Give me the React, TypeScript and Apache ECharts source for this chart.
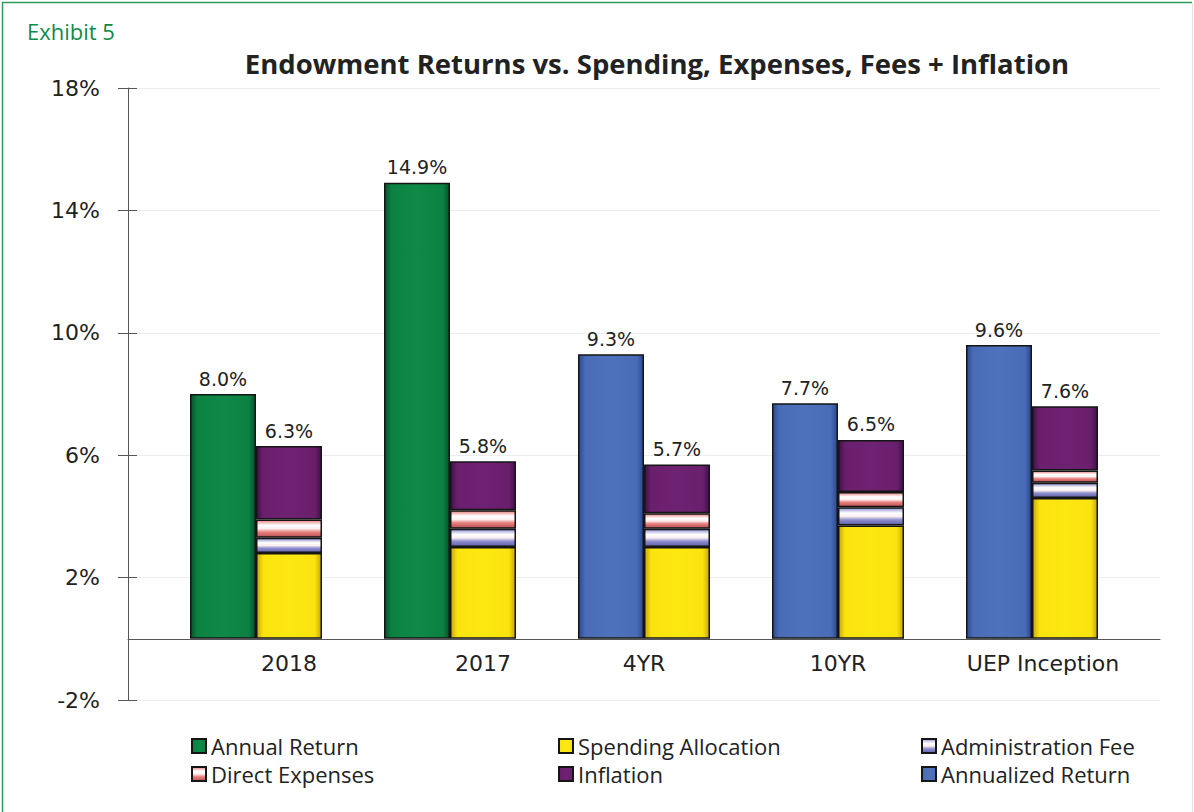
import React, { useEffect, useRef } from "react";
import * as echarts from "echarts";

const categories = ["2018", "2017", "4YR", "10YR", "UEP Inception"];
const annualReturn = [8.0, 14.9, null, null, null];
const annualizedReturn = [null, null, 9.3, 7.7, 9.6];
const spendingAllocation = [2.8, 3.0, 3.0, 3.7, 4.6];
const administrationFee = [0.5, 0.6, 0.6, 0.6, 0.5];
const directExpenses = [0.6, 0.6, 0.5, 0.5, 0.4];
const inflation = [2.4, 1.6, 1.6, 1.7, 2.1];
const yTicks = { min: -2, max: 18, interval: 4 };

const sideBevel = (base: string, dark: string, light: string) =>
  new echarts.graphic.LinearGradient(0, 0, 1, 0, [
    { offset: 0, color: dark },
    { offset: 0.1, color: base },
    { offset: 0.5, color: light },
    { offset: 0.9, color: base },
    { offset: 1, color: dark },
  ]);

const stripeBevel = (base: string, dark: string) =>
  new echarts.graphic.LinearGradient(0, 0, 0, 1, [
    { offset: 0, color: base },
    { offset: 0.3, color: "#ffffff" },
    { offset: 0.5, color: "#fbefef" },
    { offset: 0.7, color: base },
    { offset: 1, color: dark },
  ]);

export default function App() {
  const ref = useRef<HTMLDivElement>(null);
  useEffect(() => {
    if (!ref.current) return;
    const chart = echarts.init(ref.current, null, { renderer: "svg" });
    const totals = categories.map(
      (_, i) => spendingAllocation[i] + administrationFee[i] + directExpenses[i] + inflation[i]
    );
    const gridTop = 88;
    const gridHeight = 612;
    // distance from the grid bottom (-2%) up to the 0% line
    const zeroOffset = (gridHeight * (0 - yTicks.min)) / (yTicks.max - yTicks.min);
    const border = { borderColor: "#151515", borderWidth: 1.5 };
    const topLabel = {
      show: true,
      position: "top" as const,
      distance: 6,
      fontFamily: "DejaVu Sans",
      fontSize: 19,
      color: "#222",
    };
    const labelShift: Record<string, string> = {
      "2018": "a",
      "2017": "a",
      "UEP Inception": "b",
    };
    const catFont = { fontFamily: "DejaVu Sans", fontSize: 22, color: "#222" };
    const legendText = { fontFamily: "Open Sans", fontSize: 22, color: "#222" };
    const legendBase = {
      orient: "vertical" as const,
      top: 730,
      itemGap: 6,
      itemWidth: 14,
      itemHeight: 14,
      icon: "rect",
      textStyle: legendText,
      selectedMode: false,
    };
    chart.setOption({
      animation: false,
      backgroundColor: "#ffffff",
      graphic: [
        {
          type: "polyline",
          shape: { points: [[2.5, 820], [2.5, 2.5], [1192, 2.5]] },
          style: { stroke: "#2e9a5a", lineWidth: 1.5, fill: "none" },
        },
        {
          type: "line",
          shape: { x1: 1192.5, y1: 3, x2: 1192.5, y2: 812 },
          style: { stroke: "#e4e4e4", lineWidth: 1 },
        },
        {
          type: "text",
          x: 27,
          y: 31,
          style: {
            text: "Exhibit 5",
            fontFamily: "Open Sans",
            fontSize: 22,
            fill: "#118a45",
            textVerticalAlign: "middle",
          },
        },
        {
          type: "text",
          x: 657,
          y: 63,
          style: {
            text: "Endowment Returns vs. Spending, Expenses, Fees + Inflation",
            fontFamily: "Open Sans",
            fontWeight: "bold",
            fontSize: 27.5,
            fill: "#222",
            textAlign: "center",
            textVerticalAlign: "middle",
          },
        },
      ],
      grid: [
        { left: 159, width: 970, top: gridTop, height: gridHeight },
        { left: 128, width: 1032, top: gridTop, height: gridHeight },
      ],
      xAxis: [
        {
          type: "category",
          gridIndex: 0,
          data: categories,
          offset: -zeroOffset,
          axisLine: { show: false, onZero: false },
          axisTick: { show: false },
          axisLabel: {
            interval: 0,
            margin: 14,
            ...catFont,
            formatter: (v: string) => `{${labelShift[v] || "c"}|${v}}`,
            rich: {
              a: { ...catFont, padding: [0, 0, 0, 66] },
              b: { ...catFont, padding: [0, 0, 0, 22] },
              c: { ...catFont },
            },
          },
        },
        {
          type: "value",
          gridIndex: 1,
          min: 0,
          max: 1,
          axisLine: { show: true, onZero: true, lineStyle: { color: "#555", width: 1 } },
          axisTick: { show: false },
          axisLabel: { show: false },
          splitLine: { show: false },
        },
      ],
      yAxis: [
        {
          type: "value",
          gridIndex: 0,
          ...yTicks,
          offset: 31,
          axisLine: { show: false },
          axisTick: { show: true, inside: true, length: 9, lineStyle: { color: "#555" } },
          axisLabel: { show: false },
          splitLine: { show: false },
        },
        {
          type: "value",
          gridIndex: 1,
          ...yTicks,
          axisLine: { show: true, lineStyle: { color: "#555", width: 1 } },
          axisTick: { show: true, length: 10, lineStyle: { color: "#555" } },
          axisLabel: {
            margin: 28,
            fontFamily: "DejaVu Sans",
            fontSize: 22,
            color: "#222",
            formatter: (v: number) => `${v}%`,
          },
          splitLine: { show: true, lineStyle: { color: "#ececec", width: 1 } },
        },
      ],
      legend: [
        { ...legendBase, left: 186, data: ["Annual Return", "Direct Expenses"] },
        { ...legendBase, left: 553, data: ["Spending Allocation", "Inflation"] },
        { ...legendBase, left: 916, data: ["Administration Fee", "Annualized Return"] },
      ],
      series: [
        {
          name: "Annual Return",
          type: "bar",
          stack: "ret",
          barWidth: 66,
          barGap: "0%",
          data: annualReturn,
          itemStyle: { color: sideBevel("#0c8142", "#06532b", "#0e8a47"), ...border },
          label: { ...topLabel, formatter: (p: any) => `${p.value.toFixed(1)}%` },
        },
        {
          name: "Annualized Return",
          type: "bar",
          stack: "ret",
          barWidth: 66,
          barGap: "0%",
          data: annualizedReturn,
          itemStyle: { color: sideBevel("#4a6cb6", "#2b4890", "#4f72bc"), ...border },
          label: { ...topLabel, formatter: (p: any) => `${p.value.toFixed(1)}%` },
        },
        {
          name: "Spending Allocation",
          type: "bar",
          stack: "cost",
          barWidth: 66,
          barGap: "0%",
          data: spendingAllocation,
          itemStyle: { color: sideBevel("#fbe30e", "#c8a60a", "#fde812"), ...border },
        },
        {
          name: "Administration Fee",
          type: "bar",
          stack: "cost",
          barWidth: 66,
          barGap: "0%",
          data: administrationFee,
          itemStyle: { color: stripeBevel("#8e8fd0", "#5f60a6"), ...border },
        },
        {
          name: "Direct Expenses",
          type: "bar",
          stack: "cost",
          barWidth: 66,
          barGap: "0%",
          data: directExpenses,
          itemStyle: { color: stripeBevel("#e97f7f", "#b85252"), ...border },
        },
        {
          name: "Inflation",
          type: "bar",
          stack: "cost",
          barWidth: 66,
          barGap: "0%",
          data: inflation,
          itemStyle: { color: sideBevel("#6a1f6d", "#41104a", "#6e2272"), ...border },
          label: {
            ...topLabel,
            formatter: (p: any) => `${totals[p.dataIndex].toFixed(1)}%`,
          },
        },
      ],
    });
    return () => chart.dispose();
  }, []);
  return (
    <div
      ref={ref}
      style={{ position: "fixed", left: 0, top: 0, width: 1194, height: 812, background: "#fff" }}
    />
  );
}
